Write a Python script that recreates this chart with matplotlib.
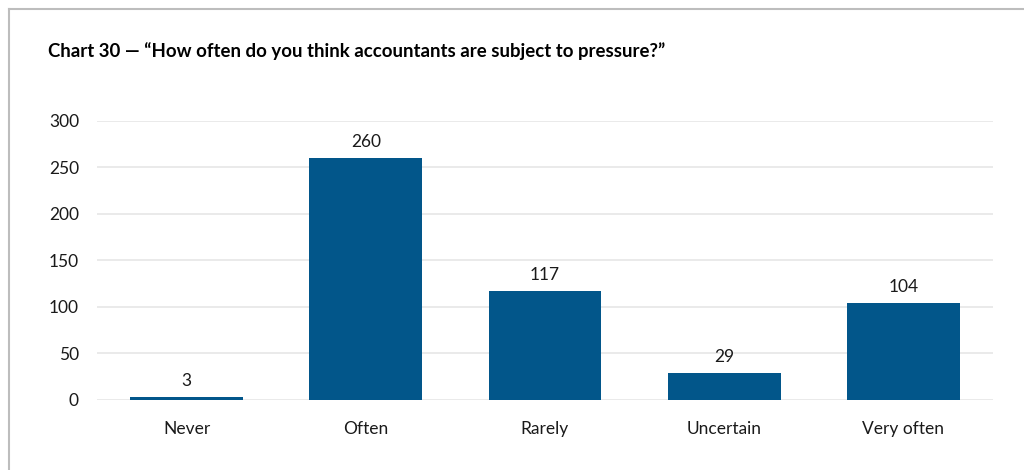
#!/usr/bin/env python3
# gráfico de barras: frecuencia percibida de presión sobre los contadores
import matplotlib.pyplot as plt
from matplotlib.lines import Line2D

categorias = ['Never', 'Often', 'Rarely', 'Uncertain', 'Very often']
respuestas = [3, 260, 117, 29, 104]
ticks_y = [0, 50, 100, 150, 200, 250, 300]
titulo = 'Chart 30 \u2014 \u201cHow often do you think accountants are subject to pressure?\u201d'

plt.rcParams['font.family'] = ['Lato', 'DejaVu Sans']

ANCHO, ALTO = 1024, 470
fig = plt.figure(figsize=(ANCHO / 100, ALTO / 100), dpi=100)

# área del gráfico en píxeles
x0, x1 = 97, 993
y_base, y_tope = 400, 120.7
ax = fig.add_axes([x0 / ANCHO, (ALTO - y_base) / ALTO,
                   (x1 - x0) / ANCHO, (y_base - y_tope) / ALTO])

color_barra = '#02568A'
pos = range(len(categorias))
barras = ax.bar(pos, respuestas, width=0.63, color=color_barra, zorder=3)

for b, v in zip(barras, respuestas):
    ax.text(b.get_x() + b.get_width() / 2, v + 9, str(v),
            ha='center', va='bottom', fontsize=12.5, color='#1a1a1a')

ax.set_xlim(-0.5, len(categorias) - 0.5)
ax.set_ylim(0, 300)
ax.set_yticks(ticks_y)
ax.set_xticks(list(pos))
ax.set_xticklabels(categorias)
ax.tick_params(axis='both', length=0, labelsize=12.5, colors='#1a1a1a')
ax.tick_params(axis='y', pad=13)
ax.tick_params(axis='x', pad=15)

ax.grid(axis='y', color='#E6E6E6', linewidth=1.2, zorder=0)
for s in ax.spines.values():
    s.set_visible(False)

fig.text(48 / ANCHO, 1 - 51 / ALTO, titulo, fontsize=13.4, fontweight='bold',
         va='center', ha='left', color='#000000')

# marco del gráfico (solo bordes superior e izquierdo)
borde = '#BDBDBD'
fig.add_artist(Line2D([9 / ANCHO, 1], [1 - 9 / ALTO, 1 - 9 / ALTO],
                      transform=fig.transFigure, color=borde, linewidth=1.5))
fig.add_artist(Line2D([9 / ANCHO, 9 / ANCHO], [0, 1 - 9 / ALTO],
                      transform=fig.transFigure, color=borde, linewidth=1.5))

fig.savefig('out.png', dpi=100)
